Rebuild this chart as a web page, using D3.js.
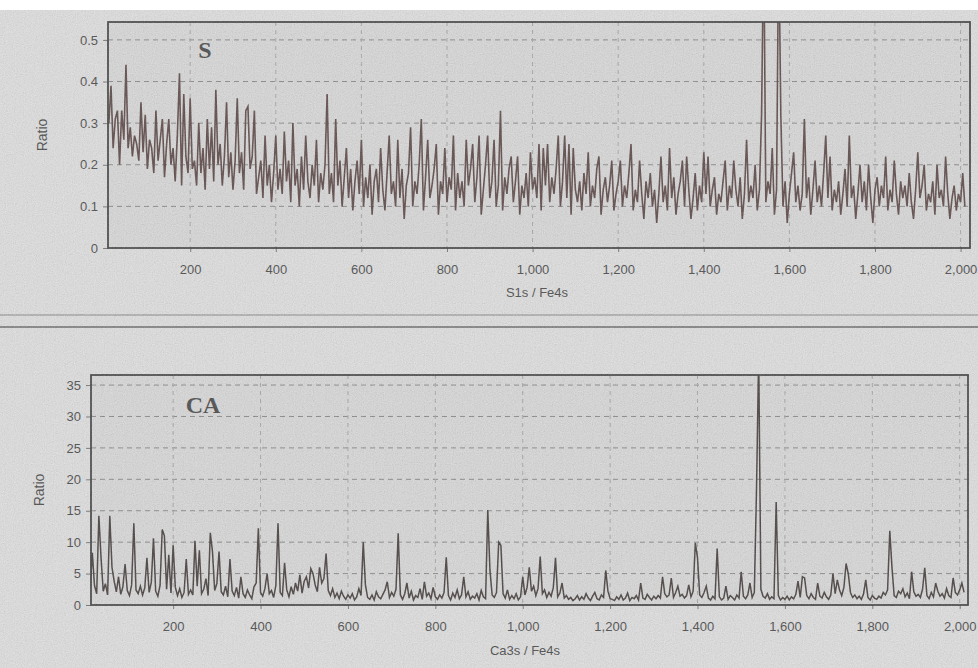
<!DOCTYPE html>
<html>
<head>
<meta charset="utf-8">
<script src="https://cdn.jsdelivr.net/npm/d3@7/dist/d3.min.js"></script>
<style>
  html, body { margin: 0; padding: 0; background: #ffffff; }
  svg { display: block; }
  text { font-family: "Liberation Sans", Arial, sans-serif; }
</style>
</head>
<body>
<svg id="chart" width="978" height="668"></svg>
<script>
// ---------------- DATA ----------------
// sample positions (channel index) for both series
const sampleStart = 10, sampleEnd = 2010, sampleStep = 5;

// S1s / Fe4s ratio (top panel), one value per sample position
const sRatio = [
  0.30,0.39,0.24,0.31,0.33,0.20,0.33,0.26,0.44,0.24,0.29,0.22,0.27,0.25,0.21,0.35,0.23,0.32,0.19,0.26,
  0.24,0.18,0.33,0.21,0.26,0.31,0.17,0.25,0.31,0.20,0.24,0.16,0.27,0.42,0.15,0.37,0.22,0.18,0.36,0.19,
  0.21,0.15,0.30,0.18,0.24,0.14,0.31,0.19,0.29,0.16,0.38,0.20,0.25,0.15,0.22,0.35,0.17,0.23,0.14,0.21,
  0.36,0.18,0.23,0.14,0.33,0.34,0.19,0.22,0.33,0.13,0.17,0.21,0.12,0.27,0.15,0.20,0.11,0.18,0.27,0.14,
  0.19,0.13,0.28,0.16,0.21,0.11,0.30,0.15,0.19,0.10,0.22,0.14,0.27,0.16,0.12,0.20,0.15,0.26,0.11,0.18,
  0.14,0.20,0.37,0.13,0.18,0.11,0.31,0.15,0.21,0.10,0.17,0.24,0.12,0.19,0.09,0.16,0.21,0.13,0.26,0.10,
  0.17,0.12,0.20,0.08,0.16,0.19,0.11,0.24,0.14,0.09,0.18,0.27,0.13,0.16,0.10,0.26,0.12,0.19,0.07,0.15,
  0.18,0.29,0.10,0.16,0.13,0.20,0.31,0.09,0.17,0.26,0.12,0.15,0.19,0.25,0.08,0.16,0.13,0.24,0.11,0.17,
  0.14,0.27,0.09,0.18,0.12,0.16,0.10,0.26,0.15,0.19,0.25,0.11,0.17,0.27,0.08,0.14,0.20,0.27,0.12,0.16,
  0.26,0.10,0.15,0.33,0.09,0.17,0.13,0.19,0.22,0.11,0.16,0.22,0.08,0.15,0.12,0.18,0.10,0.23,0.14,0.17,
  0.12,0.25,0.09,0.24,0.15,0.25,0.11,0.17,0.13,0.19,0.27,0.10,0.16,0.27,0.12,0.25,0.08,0.24,0.14,0.11,
  0.16,0.09,0.18,0.13,0.23,0.10,0.15,0.12,0.19,0.22,0.08,0.14,0.17,0.11,0.15,0.21,0.09,0.13,0.16,0.21,
  0.10,0.15,0.12,0.18,0.25,0.09,0.14,0.11,0.21,0.13,0.07,0.16,0.12,0.18,0.10,0.14,0.06,0.13,0.22,0.11,
  0.15,0.09,0.24,0.12,0.17,0.08,0.13,0.16,0.21,0.10,0.22,0.14,0.07,0.12,0.18,0.09,0.15,0.11,0.23,0.13,
  0.22,0.10,0.14,0.17,0.08,0.13,0.11,0.16,0.21,0.09,0.15,0.12,0.21,0.14,0.10,0.17,0.07,0.13,0.26,0.11,
  0.15,0.12,0.20,0.09,0.14,0.32,0.75,0.11,0.16,0.13,0.24,0.08,0.14,0.75,0.32,0.10,0.16,0.06,0.13,0.18,
  0.23,0.11,0.15,0.09,0.13,0.31,0.12,0.17,0.08,0.14,0.21,0.11,0.15,0.10,0.18,0.27,0.12,0.22,0.09,0.14,
  0.11,0.16,0.08,0.13,0.19,0.10,0.27,0.12,0.15,0.07,0.13,0.20,0.11,0.16,0.09,0.20,0.12,0.06,0.14,0.17,
  0.10,0.15,0.12,0.22,0.09,0.14,0.11,0.21,0.13,0.08,0.16,0.12,0.15,0.10,0.18,0.11,0.07,0.14,0.23,0.12,
  0.15,0.20,0.09,0.13,0.11,0.16,0.08,0.20,0.12,0.14,0.10,0.22,0.13,0.07,0.12,0.15,0.09,0.13,0.11,0.18,
  0.10
];

// Ca3s / Fe4s ratio (bottom panel), one value per sample position
const caRatio = [
  2.5,8.3,3.1,1.8,14.2,7.5,2.2,3.4,1.6,14.2,6.0,3.8,2.1,4.5,1.7,2.9,6.5,2.3,1.5,3.2,
  13.0,2.4,1.8,3.0,1.6,2.7,7.5,2.0,3.6,10.6,2.2,1.4,3.1,12.0,11.0,2.5,8.0,1.9,9.5,2.8,
  1.5,2.6,1.2,2.0,7.3,1.7,2.4,1.6,10.2,3.0,8.7,1.8,2.5,4.2,1.5,11.5,8.5,2.3,3.4,8.5,
  2.1,1.6,3.0,1.3,7.3,2.2,1.5,2.8,1.1,4.5,1.8,1.2,2.4,1.6,1.0,2.9,3.5,12.2,2.0,1.4,
  2.6,5.0,1.8,2.3,1.2,3.1,13.0,2.0,1.5,6.7,2.4,1.3,2.9,1.7,3.5,2.2,4.8,1.9,3.8,4.5,
  2.7,5.8,5.0,3.2,2.1,6.0,3.5,4.2,8.2,2.3,1.5,2.6,1.2,1.9,1.0,2.2,1.4,0.9,1.6,1.1,
  1.8,0.8,1.3,2.6,1.5,10.0,3.2,1.2,0.9,1.6,0.8,2.1,1.3,1.0,1.7,2.4,3.7,1.2,2.0,1.4,
  2.5,11.4,1.6,0.9,1.8,3.5,1.1,2.2,0.8,1.5,1.2,2.6,0.9,3.7,1.4,1.9,1.0,2.8,1.3,0.9,
  1.6,1.1,2.0,7.6,1.5,0.8,1.9,1.2,2.4,1.0,1.6,4.5,1.3,2.1,0.9,1.4,1.1,1.8,0.8,2.3,
  1.3,1.0,15.1,5.5,1.6,1.2,2.0,10.0,9.5,1.8,1.1,2.4,0.9,1.5,1.0,1.8,0.8,1.3,4.5,1.6,
  2.8,6.0,2.2,3.0,1.5,2.6,7.7,1.8,2.4,1.2,2.0,1.4,2.8,7.5,1.3,1.9,3.5,1.1,1.5,0.9,
  1.2,0.7,1.0,1.5,0.8,1.3,0.9,1.8,1.1,0.7,1.4,2.0,1.0,0.8,1.6,1.2,5.5,2.2,1.0,0.9,
  0.7,1.3,0.9,1.6,0.8,1.1,1.9,0.7,1.2,1.0,1.5,0.8,3.5,1.1,0.9,1.7,1.2,0.8,1.4,1.0,
  1.5,1.1,4.5,1.8,1.3,1.6,4.3,1.2,2.0,3.0,1.4,1.7,1.1,1.5,3.2,1.3,2.2,9.9,7.5,1.6,
  1.2,2.0,3.0,1.1,0.8,1.4,1.0,9.0,1.3,0.8,1.1,3.0,0.9,1.5,1.2,0.8,1.6,1.1,5.3,1.4,
  1.0,1.6,3.5,1.2,2.0,18.3,40,2.5,1.4,1.1,1.8,0.9,1.3,1.0,16.4,1.5,0.8,1.2,0.9,1.4,
  0.8,1.3,1.0,1.7,3.8,1.2,4.5,4.3,1.5,1.0,1.8,1.2,0.9,3.5,1.4,1.1,2.0,1.3,0.9,1.6,
  5.0,1.8,4.0,2.4,1.5,2.8,6.6,5.0,2.0,1.2,1.6,1.0,1.4,0.9,1.8,4.0,1.2,0.8,1.5,1.1,
  0.9,1.4,1.1,2.0,1.6,2.4,11.8,6.0,1.5,1.2,2.2,1.8,2.6,1.3,1.9,1.0,5.3,2.1,1.4,1.7,
  1.2,2.5,5.9,1.5,1.0,2.0,1.3,3.5,2.2,1.4,1.8,1.1,2.6,1.5,1.2,4.3,2.0,1.6,2.4,3.5,
  2.0
];

const xTicks = [200,400,600,800,1000,1200,1400,1600,1800,2000];
const sYTicks = [0,0.1,0.2,0.3,0.4,0.5];
const caYTicks = [0,5,10,15,20,25,30,35];
const panelTitles = ["S","CA"];
const xTitles = ["S1s / Fe4s","Ca3s / Fe4s"];
const yTitle = "Ratio";

// ---------------- DRAW ----------------
const positions = d3.range(sampleStart, sampleEnd + 1, sampleStep);
if (positions.length !== sRatio.length || positions.length !== caRatio.length) {
  throw new Error("length mismatch " + positions.length + " " + sRatio.length + " " + caRatio.length);
}

const svg = d3.select("#chart");
const defs = svg.append("defs");
const noise = defs.append("filter").attr("id","noise").attr("x",0).attr("y",0).attr("width","100%").attr("height","100%");
noise.append("feTurbulence").attr("type","fractalNoise").attr("baseFrequency",0.9).attr("numOctaves",2).attr("seed",3).attr("stitchTiles","stitch");
noise.append("feColorMatrix").attr("type","matrix")
  .attr("values","0.33 0.33 0.33 0 0  0.33 0.33 0.33 0 0  0.33 0.33 0.33 0 0  0 0 0 0 0.28");

// page background (scanned paper look)
svg.append("rect").attr("x",0).attr("y",0).attr("width",978).attr("height",668).attr("fill","#ffffff");
svg.append("rect").attr("x",0).attr("y",10).attr("width",978).attr("height",658).attr("fill","#e4e4e4");

// separator double line
svg.append("line").attr("x1",0).attr("x2",978).attr("y1",315).attr("y2",315).attr("stroke","#7a7a7a").attr("stroke-width",1.2);
svg.append("line").attr("x1",0).attr("x2",978).attr("y1",327).attr("y2",327).attr("stroke","#555").attr("stroke-width",1.4);

const panels = [
  { values: sRatio, xDomain:[8,2022], xRange:[108,970], yDomain:[0,0.543], yRange:[248,22], yTicks:sYTicks,
    yFmt: d => d === 0 ? "0" : d3.format(".1f")(d), title: panelTitles[0], titleX: 205, titleY: 58,
    xTitle: xTitles[0], xTitleX: 537, xTitleY: 297, yTitleX: 47, yTitleY: 135, color:"#4a3331", width:1.6 },
  { values: caRatio, xDomain:[12,2019], xRange:[91,968], yDomain:[0,36.6], yRange:[605,375], yTicks:caYTicks,
    yFmt: d3.format("d"), title: panelTitles[1], titleX: 203, titleY: 413,
    xTitle: xTitles[1], xTitleX: 525, xTitleY: 655, yTitleX: 44, yTitleY: 490, color:"#2f2624", width:1.5 }
];

panels.forEach((p, idx) => {
  const x = d3.scaleLinear().domain(p.xDomain).range(p.xRange);
  const y = d3.scaleLinear().domain(p.yDomain).range(p.yRange);
  const [x0, x1] = p.xRange, [yb, yt] = p.yRange;
  const g = svg.append("g");

  // plot background
  g.append("rect").attr("x",x0).attr("y",yt).attr("width",x1-x0).attr("height",yb-yt).attr("fill","#dcdcdc");

  // grid
  g.append("g").selectAll("line").data(p.yTicks.filter(t => t > 0)).join("line")
    .attr("x1",x0).attr("x2",x1).attr("y1",d=>y(d)).attr("y2",d=>y(d))
    .attr("stroke","#7e7e7e").attr("stroke-width",1).attr("stroke-dasharray","5,4");
  g.append("g").selectAll("line").data(xTicks.filter(t => x(t) < x1 - 2)).join("line")
    .attr("x1",d=>x(d)).attr("x2",d=>x(d)).attr("y1",yt).attr("y2",yb)
    .attr("stroke","#a0a0a0").attr("stroke-width",1).attr("stroke-dasharray","4,4");

  // series
  const clipId = "clip" + idx;
  defs.append("clipPath").attr("id",clipId).append("rect")
    .attr("x",x0).attr("y",yt).attr("width",x1-x0).attr("height",yb-yt);
  const line = d3.line().x((d,i)=>x(positions[i])).y(d=>y(d));
  g.append("path").datum(p.values).attr("d",line)
    .attr("clip-path","url(#"+clipId+")")
    .attr("fill","none").attr("stroke",p.color).attr("stroke-width",p.width).attr("stroke-linejoin","miter");

  // axes
  const yAxis = d3.axisLeft(y).tickValues(p.yTicks).tickFormat(p.yFmt).tickSize(5).tickPadding(5);
  const ya = g.append("g").attr("transform","translate("+x0+",0)").call(yAxis);
  const xAxis = d3.axisBottom(x).tickValues(xTicks).tickFormat(d3.format(",")).tickSize(4).tickPadding(13);
  const xa = g.append("g").attr("transform","translate(0,"+yb+")").call(xAxis);
  [ya, xa].forEach(a => {
    a.select(".domain").remove();
    a.selectAll(".tick line").attr("stroke","#666");
    a.selectAll(".tick text").attr("fill","#333").style("font-size","13px")
      .style("font-family","'Liberation Sans', Arial, sans-serif");
  });

  // frame
  g.append("rect").attr("x",x0).attr("y",yt).attr("width",x1-x0).attr("height",yb-yt)
    .attr("fill","none").attr("stroke","#2a2a2a").attr("stroke-width",1.8);

  // titles
  g.append("text").attr("x",p.titleX).attr("y",p.titleY).attr("text-anchor","middle")
    .style("font-family","'Liberation Serif', 'Times New Roman', serif").style("font-weight","bold")
    .style("font-size","24px").attr("fill","#333").text(p.title);
  g.append("text").attr("x",p.xTitleX).attr("y",p.xTitleY).attr("text-anchor","middle")
    .style("font-size","13px").attr("fill","#333").text(p.xTitle);
  g.append("text").attr("transform","translate("+p.yTitleX+","+p.yTitleY+") rotate(-90)")
    .attr("text-anchor","middle").style("font-size","14px").attr("fill","#333").text(yTitle);
});

// scan noise overlay
svg.append("rect").attr("x",0).attr("y",10).attr("width",978).attr("height",658)
  .attr("filter","url(#noise)").attr("pointer-events","none");
</script>
</body>
</html>
